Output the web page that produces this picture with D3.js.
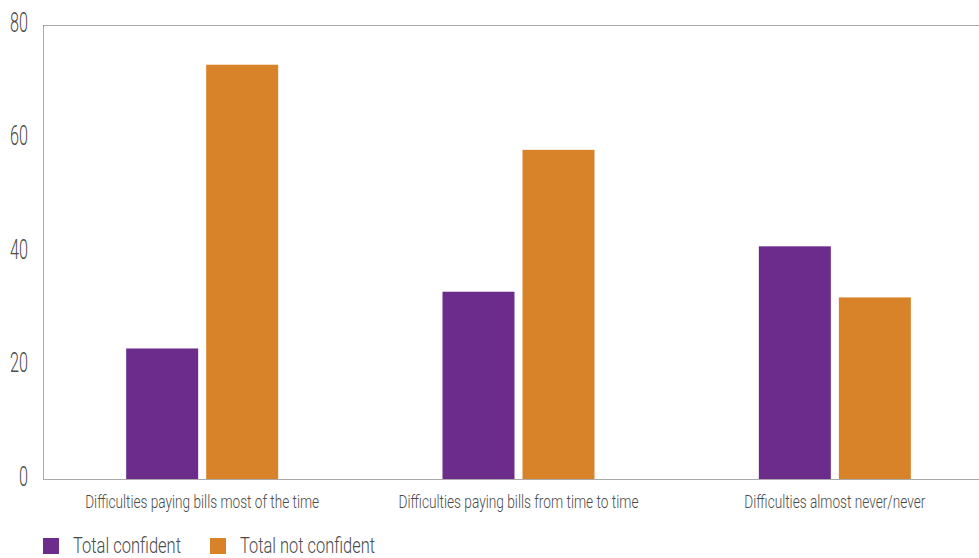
<!DOCTYPE html>
<html><head><meta charset="utf-8">
<script src="https://cdn.jsdelivr.net/npm/d3@7"></script>
<style>
body{margin:0;background:#fff;}
text{font-family:Roboto,"DejaVu Sans",sans-serif;font-weight:300;fill:#4a4a4a;}
</style></head><body>
<svg id="c" width="979" height="558"></svg>
<script>
const categories = ["Difficulties paying bills most of the time","Difficulties paying bills from time to time","Difficulties almost never/never"];
const seriesNames = ["Total confident","Total not confident"];
const confident = [23, 33, 41];
const notConfident = [73, 58, 32];
const yTicks = [0, 20, 40, 60, 80];
const colors = ["#6c2c8c", "#d8832a"];

const svg = d3.select("#c");
const x0 = 44, x1 = 993, yTop = 25, yBot = 479;
const x = d3.scaleBand().domain(categories).range([x0, x1]);
const y = d3.scaleLinear().domain([0, 80]).range([yBot, yTop]);
const inner = d3.scaleBand().domain(seriesNames).range([0, 152]).paddingInner(0.1);

function line(a, b, c, d){
  svg.append("line").attr("x1",a).attr("y1",b).attr("x2",c).attr("y2",d)
    .attr("stroke","#555").attr("stroke-width",1).attr("stroke-dasharray","1,1");
}
line(43.5, y(80)+0.5, 979, y(80)+0.5);
line(43.5, y(80)+0.5, 43.5, y(0)+0.5);
line(43.5, y(0)+0.5, 979, y(0)+0.5);

// y tick labels
const yAxis = d3.axisLeft(y).tickValues(yTicks).tickSize(0).tickPadding(15);
const ga = svg.append("g").attr("transform","translate(43,0)").call(yAxis);
ga.select(".domain").remove();
ga.selectAll("text")
  .attr("font-family", null).attr("font-size", null)
  .style("font-size","27px").style("font-weight","300").style("fill","#4a4a4a")
  .attr("dy","0.3em").attr("y", -2)
  .attr("textLength", d => String(d).length * 9)
  .attr("lengthAdjust","spacingAndGlyphs");

// bars
const data = [confident, notConfident];
seriesNames.forEach((s, si) => {
  svg.append("g").selectAll("rect").data(categories).join("rect")
    .attr("x", (c) => x(c) + x.bandwidth()/2 - 76 + inner(s))
    .attr("y", (c, i) => y(data[si][i]))
    .attr("width", inner.bandwidth())
    .attr("height", (c, i) => y(0) - y(data[si][i]))
    .attr("fill", colors[si]);
});

// x labels
const xLabelWidths = [234, 240, 181];
const xAxis = d3.axisBottom(x).tickSize(0).tickPadding(0);
const gx = svg.append("g").attr("transform", `translate(0,${yBot})`).call(xAxis);
gx.select(".domain").remove();
gx.selectAll("text")
  .attr("font-family", null).attr("font-size", null)
  .style("font-size","18px").style("font-weight","300").style("fill","#4a4a4a")
  .attr("dy", null).attr("y", 29)
  .attr("textLength", (d, i) => xLabelWidths[i])
  .attr("lengthAdjust","spacingAndGlyphs");

// legend
const lg = svg.append("g");
const lx = [43, 210];
const lw = [108, 135];
seriesNames.forEach((s, i) => {
  lg.append("rect").attr("x", lx[i]).attr("y", 538).attr("width", 16).attr("height", 16).attr("fill", colors[i]);
  lg.append("text").attr("x", lx[i] + 30).attr("y", 553).style("font-size","22px").style("font-weight","300")
    .attr("textLength", lw[i]).attr("lengthAdjust","spacingAndGlyphs").text(s);
});
</script>
</body></html>
